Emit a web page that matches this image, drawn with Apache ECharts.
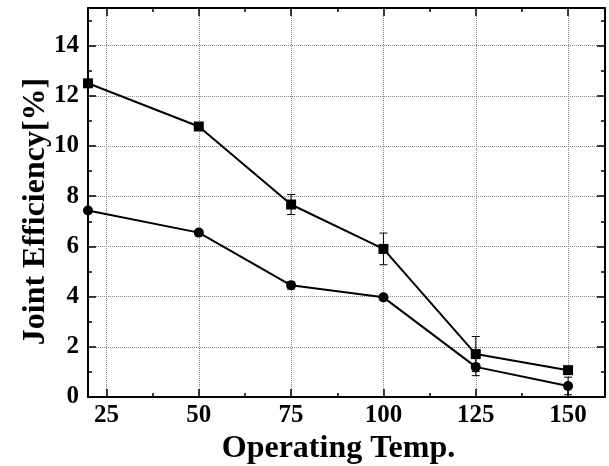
<!DOCTYPE html>
<html><head><meta charset="utf-8">
<script src="https://cdn.jsdelivr.net/npm/echarts@6/dist/echarts.min.js"></script>
<style>html,body{margin:0;padding:0;background:#fff}#c{width:609px;height:466px}</style>
</head><body><div id="c"></div>
<script>
const temps = [20, 50, 75, 100, 125, 150];
const squareValues = [12.5, 10.78, 7.67, 5.9, 1.71, 1.07];
const squareErrors = [0.05, 0.08, 0.4, 0.63, 0.7, 0.1];
const circleValues = [7.43, 6.55, 4.45, 3.97, 1.2, 0.44];
const circleErrors = [0.05, 0.08, 0.15, 0.1, 0.35, 0.35];
const xTickLabels = [25, 50, 75, 100, 125, 150];
const xMinorTicks = [37.5, 62.5, 87.5, 112.5, 137.5];
const yTickLabels = [0, 2, 4, 6, 8, 10, 12, 14];
const yMinorTicks = [1, 3, 5, 7, 9, 11, 13, 15];
const xTitle = 'Operating Temp.';
const yTitle = 'Joint Efficiency[%]';

const FONT = 'Liberation Serif';
const chart = echarts.init(document.getElementById('c'), null, {renderer: 'canvas'});

function xAx(pos, major, labels) {
  return {
    type: 'value', position: pos, min: 20, max: 160, interval: 25,
    axisLine: {show: major, onZero: false, lineStyle: {color: '#000', width: 2}},
    axisTick: {show: true, inside: true, length: major ? 8 : 4, customValues: major ? xTickLabels : xMinorTicks, lineStyle: {color: '#000', width: 1.5}},
    axisLabel: labels ? {show: true, customValues: xTickLabels, margin: 6, color: '#000', fontFamily: FONT, fontWeight: 'bold', fontSize: 25} : {show: false},
    splitLine: {show: labels, lineStyle: {color: '#888', type: 'dotted', width: 1}},
    name: labels ? xTitle : '', nameLocation: 'middle', nameGap: 32,
    nameTextStyle: {color: '#000', fontFamily: FONT, fontWeight: 'bold', fontSize: 32, padding: [0, 16, 0, 0]}
  };
}
function yAx(pos, major, labels) {
  return {
    type: 'value', position: pos, min: 0, max: 15.5, interval: 2,
    axisLine: {show: major, onZero: false, lineStyle: {color: '#000', width: 2}},
    axisTick: {show: true, inside: true, length: major ? 8 : 4, customValues: major ? yTickLabels : yMinorTicks, lineStyle: {color: '#000', width: 1.5}},
    axisLabel: labels ? {show: true, customValues: yTickLabels, margin: 9, color: '#000', fontFamily: FONT, fontWeight: 'bold', fontSize: 25} : {show: false},
    splitLine: {show: labels, lineStyle: {color: '#888', type: 'dotted', width: 1}},
    name: labels ? yTitle : '', nameLocation: 'middle', nameGap: 36, nameMoveOverlap: false,
    nameTextStyle: {color: '#000', fontFamily: FONT, fontWeight: 'bold', fontSize: 32, padding: [0, 18, 0, 0]}
  };
}

function errItem(params, api) {
  const x = api.value(0), y = api.value(1), e = api.value(2);
  const top = api.coord([x, y + e]);
  const bot = api.coord([x, y - e]);
  const cap = 4;
  const st = {stroke: '#000', lineWidth: 1};
  return {type: 'group', children: [
    {type: 'line', shape: {x1: top[0], y1: top[1], x2: bot[0], y2: bot[1]}, style: st},
    {type: 'line', shape: {x1: top[0] - cap, y1: top[1], x2: top[0] + cap, y2: top[1]}, style: st},
    {type: 'line', shape: {x1: bot[0] - cap, y1: bot[1], x2: bot[0] + cap, y2: bot[1]}, style: st}
  ]};
}

chart.setOption({
  animation: false,
  backgroundColor: '#fff',
  grid: {left: 88, top: 8, right: 4, bottom: 69, containLabel: false, outerBoundsMode: 'none'},
  xAxis: [xAx('bottom', true, true), xAx('bottom', false, false), xAx('top', true, false), xAx('top', false, false)],
  yAxis: [yAx('left', true, true), yAx('left', false, false), yAx('right', true, false), yAx('right', false, false)],
  series: [
    {type: 'custom', renderItem: errItem, data: temps.map((t, i) => [t, squareValues[i], squareErrors[i]]), z: 1},
    {type: 'custom', renderItem: errItem, data: temps.map((t, i) => [t, circleValues[i], circleErrors[i]]), z: 1},
    {type: 'line', data: temps.map((t, i) => [t, squareValues[i]]), symbol: 'rect', symbolSize: 10,
      itemStyle: {color: '#000'}, lineStyle: {color: '#000', width: 2}, z: 3},
    {type: 'line', data: temps.map((t, i) => [t, circleValues[i]]), symbol: 'circle', symbolSize: 10,
      itemStyle: {color: '#000'}, lineStyle: {color: '#000', width: 2}, z: 3}
  ]
});
</script></body></html>
